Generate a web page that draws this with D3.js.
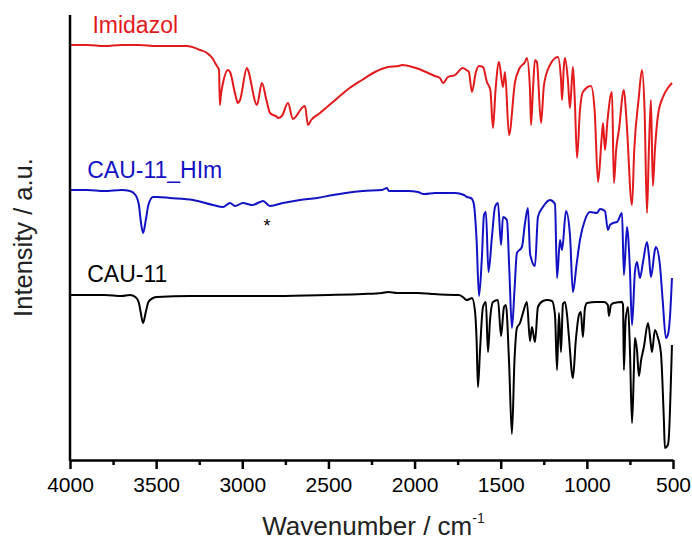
<!DOCTYPE html>
<html>
<head>
<meta charset="utf-8">
<script src="https://cdn.jsdelivr.net/npm/d3@7"></script>
<style>
  html, body { margin: 0; padding: 0; background: #fff; }
  svg { display: block; font-family: Arial, "Liberation Sans", sans-serif; }
</style>
</head>
<body>
<svg id="chart" width="692" height="540"></svg>
<script>
// ---- data: [wavenumber (cm-1), intensity (a.u., offset)] ----
const imidazol = [[4000,415],[3900,415],[3800,414],[3700,415],[3600,415],[3500,414],[3400,414],[3321,414],[3245,410],[3205,407],[3170,401],[3158,397],[3140,392],[3135,390],[3130,355],[3124,365],[3112,377],[3083,390],[3071,388],[3040,365],[3025,357],[3013,360],[2973,392],[2967,390],[2915,355],[2886,377],[2860,360],[2839,347],[2799,343],[2793,342],[2770,344],[2735,357],[2706,341],[2648,353],[2636,354],[2619,335],[2600,340],[2549,347],[2474,358],[2392,370],[2305,380],[2230,388],[2154,393],[2091,394],[2073,395],[1992,392],[1922,387],[1882,384],[1853,382],[1835,377],[1806,383],[1765,385],[1719,392],[1700,390],[1685,388],[1667,368],[1644,388],[1626,394],[1603,393],[1580,378],[1560,370],[1545,332],[1530,370],[1510,398],[1487,373],[1475,388],[1452,325],[1417,378],[1390,392],[1359,398],[1348,402],[1330,370],[1324,335],[1313,370],[1301,400],[1290,398],[1266,337],[1249,375],[1214,395],[1168,403],[1150,380],[1144,360],[1133,395],[1127,402],[1110,380],[1098,352],[1081,393],[1070,360],[1057,302],[1040,350],[1023,368],[976,374],[955,350],[935,278],[915,320],[906,337],[895,310],[880,340],[854,368],[843,277],[830,310],[814,330],[785,370],[770,340],[738,255],[725,310],[700,360],[680,390],[665,350],[651,247],[640,310],[628,360],[617,274],[605,310],[587,345],[558,363],[530,372],[506,377]];

const cau11HIm = [[4000,270],[3900,270],[3800,269],[3700,270],[3652,269],[3620,265],[3600,255],[3590,240],[3576,227],[3560,240],[3545,255],[3518,263],[3495,263],[3420,262],[3286,260],[3170,255],[3112,253],[3071,257],[3042,254],[2996,257],[2944,255],[2897,258],[2880,259],[2839,254],[2764,257],[2665,260],[2566,262],[2474,265],[2400,267],[2300,269],[2189,270],[2160,272],[2150,269],[2038,269],[1980,268],[1951,266],[1940,266],[1882,267],[1818,267],[1765,267],[1713,265],[1696,263],[1673,262],[1661,259],[1655,255],[1640,220],[1626,164],[1610,200],[1597,245],[1586,248],[1571,188],[1551,223],[1533,253],[1516,257],[1498,215],[1487,243],[1464,240],[1450,190],[1435,132],[1420,170],[1406,207],[1377,213],[1359,237],[1342,252],[1330,207],[1324,202],[1301,194],[1284,243],[1255,253],[1214,260],[1185,256],[1173,182],[1156,220],[1144,210],[1121,249],[1098,225],[1081,168],[1060,195],[1040,220],[1011,240],[982,248],[941,247],[924,251],[895,249],[878,230],[866,235],[848,237],[825,238],[796,247],[785,185],[767,233],[750,190],[738,135],[721,188],[709,198],[692,182],[674,198],[651,218],[640,205],[628,183],[605,210],[599,213],[576,195],[560,160],[541,122],[530,125],[518,142],[506,182]];

const cau11 = [[4000,165],[3900,165],[3800,165],[3700,164],[3652,165],[3620,163],[3600,157],[3590,148],[3576,137],[3560,148],[3545,158],[3518,162],[3495,163],[3300,164],[3000,164],[2800,164],[2500,165],[2300,166],[2189,167],[2154,168],[2100,167],[1980,167],[1900,166],[1765,165],[1742,165],[1713,162],[1700,160],[1680,161],[1667,162],[1650,150],[1640,120],[1632,73],[1620,110],[1603,153],[1586,158],[1574,108],[1562,140],[1545,158],[1516,160],[1498,124],[1481,153],[1470,155],[1452,100],[1435,26],[1420,100],[1406,132],[1388,137],[1371,147],[1348,158],[1330,119],[1319,133],[1301,118],[1284,153],[1255,159],[1230,160],[1202,159],[1185,145],[1173,90],[1162,147],[1150,108],[1139,156],[1127,158],[1115,145],[1104,123],[1081,82],[1064,120],[1046,145],[1035,148],[1023,123],[1011,152],[999,157],[947,158],[900,158],[878,155],[872,144],[860,155],[843,157],[796,158],[790,155],[785,90],[775,140],[761,153],[750,110],[738,37],[727,90],[721,122],[709,110],[698,84],[685,100],[669,113],[645,137],[628,115],[622,108],[605,130],[587,122],[570,107],[553,40],[547,12],[530,15],[524,23],[512,80],[506,115]];

const seriesNames = ["Imidazol", "CAU-11_HIm", "CAU-11"];
const seriesColors = ["#e31a1c", "#1212c4", "#000000"];
const seriesData = [imidazol, cau11HIm, cau11];
// label anchor: [wavenumber, intensity]
const labelPos = [[3870, 427], [3900, 282], [3900, 178]];

const majorTicks = [4000, 3500, 3000, 2500, 2000, 1500, 1000, 500];
const minorTicks = [3750, 3250, 2750, 2250, 1750, 1250, 750];
const asterisk = { wn: 2857, value: 239, text: "*" };

const xTitle = "Wavenumber / cm";
const xTitleSup = "-1";
const yTitle = "Intensity / a.u.";

// ---- layout ----
const svg = d3.select("#chart");
const mLeft = 70, mRight = 673, mTop = 15, mBottom = 460;

const x = d3.scaleLinear().domain([4000, 500]).range([mLeft, mRight]);
const y = d3.scaleLinear().domain([0, 445]).range([mBottom, mTop]);

const line = d3.line()
  .x(d => x(d[0]))
  .y(d => y(d[1]))
  .curve(d3.curveMonotoneX);

seriesData.forEach((data, i) => {
  svg.append("path")
    .datum(data)
    .attr("fill", "none")
    .attr("stroke", seriesColors[i])
    .attr("stroke-width", 2)
    .attr("stroke-linejoin", "round")
    .attr("d", line);

  svg.append("text")
    .attr("x", x(labelPos[i][0]))
    .attr("y", y(labelPos[i][1]))
    .attr("fill", seriesColors[i])
    .attr("font-size", 23)
    .text(seriesNames[i]);
});

svg.append("text")
  .attr("x", x(asterisk.wn))
  .attr("y", y(asterisk.value) + 11)
  .attr("text-anchor", "middle")
  .attr("font-size", 18)
  .attr("fill", "#000")
  .text(asterisk.text);

// x axis
const gx = svg.append("g").attr("transform", `translate(0,${mBottom})`);
gx.call(d3.axisBottom(x).tickValues(majorTicks).tickSize(9).tickSizeOuter(0).tickFormat(d3.format("d")));
gx.select(".domain").attr("stroke-width", 2.5).attr("stroke", "#000");
gx.selectAll(".tick line").attr("stroke-width", 2.5).attr("stroke", "#000");
gx.selectAll(".tick text")
  .attr("font-size", 21)
  .attr("font-family", "Arial, 'Liberation Sans', sans-serif")
  .attr("fill", "#000")
  .attr("dy", null)
  .attr("y", 32);

const gxm = svg.append("g").attr("transform", `translate(0,${mBottom})`);
gxm.call(d3.axisBottom(x).tickValues(minorTicks).tickSize(5).tickSizeOuter(0).tickFormat(""));
gxm.select(".domain").remove();
gxm.selectAll(".tick line").attr("stroke-width", 2.5).attr("stroke", "#000");

// y axis (line only)
svg.append("line")
  .attr("x1", mLeft).attr("x2", mLeft)
  .attr("y1", mTop).attr("y2", mBottom + 1)
  .attr("stroke", "#000").attr("stroke-width", 2.5);

// titles
const xt = svg.append("text")
  .attr("x", (mLeft + mRight) / 2 + 2)
  .attr("y", 535)
  .attr("text-anchor", "middle")
  .attr("font-size", 26)
  .attr("fill", "#222");
xt.append("tspan").text(xTitle);
xt.append("tspan").attr("dy", -12).attr("font-size", 14).text(xTitleSup);

svg.append("text")
  .attr("transform", `translate(32,${(mTop + mBottom) / 2}) rotate(-90)`)
  .attr("text-anchor", "middle")
  .attr("font-size", 25.5)
  .attr("fill", "#222")
  .text(yTitle);
</script>
</body>
</html>
